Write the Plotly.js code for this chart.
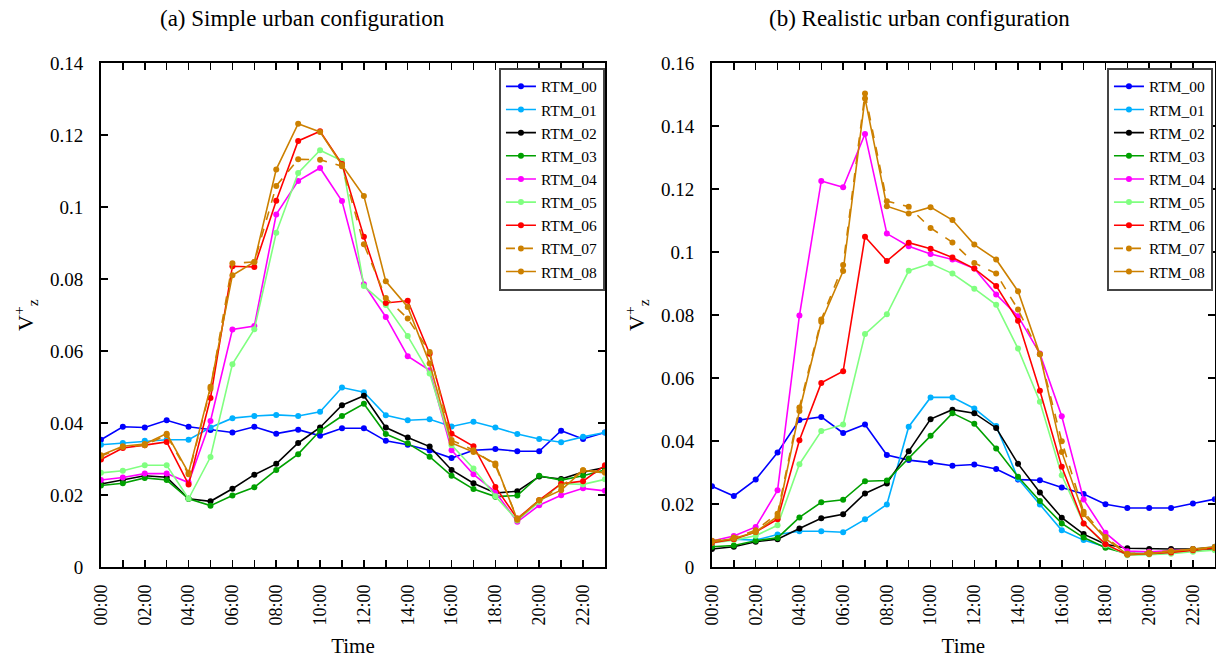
<!DOCTYPE html>
<html>
<head>
<meta charset="utf-8">
<script src="https://cdn.plot.ly/plotly-3.0.1.min.js"></script>
<style>
  html, body { margin: 0; padding: 0; background: #fff; }
  #app { width: 1216px; height: 658px; }
</style>
</head>
<body>
<div id="app"></div>
<script>
// hours of the day, 0..23
const hours = [0, 1, 2, 3, 4, 5, 6, 7, 8, 9, 10, 11, 12, 13, 14, 15, 16, 17, 18, 19, 20, 21, 22, 23]
const hourLabels = ['00:00', '', '02:00', '', '04:00', '', '06:00', '', '08:00', '', '10:00', '',
  '12:00', '', '14:00', '', '16:00', '', '18:00', '', '20:00', '', '22:00', '']
const names = ['RTM_00', 'RTM_01', 'RTM_02', 'RTM_03', 'RTM_04', 'RTM_05', 'RTM_06', 'RTM_07', 'RTM_08']

// (a) simple urban configuration
const simple00 = [0.0354, 0.0390, 0.0388, 0.0408, 0.0390, 0.0381, 0.0374, 0.0390, 0.0371, 0.0382, 0.0365, 0.0386, 0.0386, 0.0351, 0.0340, 0.0324, 0.0303, 0.0325, 0.0328, 0.0322, 0.0322, 0.0379, 0.0356, 0.0374]
const simple01 = [0.0340, 0.0345, 0.0351, 0.0354, 0.0354, 0.0388, 0.0414, 0.0420, 0.0423, 0.0420, 0.0432, 0.0499, 0.0486, 0.0422, 0.0408, 0.0411, 0.0391, 0.0404, 0.0388, 0.0370, 0.0356, 0.0347, 0.0362, 0.0374]
const simple02 = [0.0231, 0.0242, 0.0254, 0.0250, 0.0190, 0.0183, 0.0218, 0.0257, 0.0287, 0.0345, 0.0388, 0.0450, 0.0476, 0.0388, 0.0360, 0.0335, 0.0270, 0.0233, 0.0206, 0.0211, 0.0252, 0.0245, 0.0264, 0.0277]
const simple03 = [0.0227, 0.0233, 0.0248, 0.0242, 0.0190, 0.0171, 0.0199, 0.0222, 0.0270, 0.0314, 0.0379, 0.0420, 0.0454, 0.0370, 0.0344, 0.0307, 0.0254, 0.0217, 0.0196, 0.0199, 0.0254, 0.0242, 0.0254, 0.0270]
const simple04 = [0.0242, 0.0249, 0.0260, 0.0260, 0.0235, 0.0406, 0.0660, 0.0670, 0.0980, 0.1073, 0.1109, 0.1017, 0.0786, 0.0695, 0.0586, 0.0547, 0.0325, 0.0258, 0.0209, 0.0126, 0.0172, 0.0200, 0.0219, 0.0212]
const simple05 = [0.0262, 0.0268, 0.0283, 0.0283, 0.0190, 0.0306, 0.0564, 0.0661, 0.0929, 0.1095, 0.1158, 0.1129, 0.0781, 0.0728, 0.0642, 0.0538, 0.0339, 0.0274, 0.0197, 0.0130, 0.0181, 0.0232, 0.0230, 0.0244]
const simple06 = [0.0299, 0.0331, 0.0339, 0.0348, 0.0230, 0.0470, 0.0836, 0.0834, 0.1018, 0.1184, 0.1211, 0.1120, 0.0918, 0.0734, 0.0740, 0.0593, 0.0371, 0.0336, 0.0223, 0.0135, 0.0186, 0.0232, 0.0239, 0.0283]
const simple07 = [0.0308, 0.0334, 0.0339, 0.0367, 0.0258, 0.0496, 0.0844, 0.0848, 0.1059, 0.1133, 0.1132, 0.1114, 0.0897, 0.0748, 0.0691, 0.0598, 0.0353, 0.0325, 0.0283, 0.0135, 0.0186, 0.0225, 0.0269, 0.0265]
const simple08 = [0.0311, 0.0336, 0.0342, 0.0371, 0.0262, 0.0501, 0.0811, 0.0848, 0.1105, 0.1232, 0.1209, 0.1117, 0.1031, 0.0794, 0.0723, 0.0566, 0.0345, 0.0320, 0.0288, 0.0132, 0.0186, 0.0214, 0.0269, 0.0262]

// (b) realistic urban configuration
const real00 = [0.0257, 0.0226, 0.0278, 0.0364, 0.0467, 0.0477, 0.0426, 0.0453, 0.0356, 0.0340, 0.0332, 0.0322, 0.0326, 0.0312, 0.0278, 0.0276, 0.0253, 0.0232, 0.0200, 0.0188, 0.0188, 0.0188, 0.0202, 0.0216]
const real01 = [0.0080, 0.0089, 0.0086, 0.0104, 0.0114, 0.0114, 0.0111, 0.0152, 0.0199, 0.0446, 0.0539, 0.0539, 0.0504, 0.0448, 0.0281, 0.0199, 0.0117, 0.0086, 0.0065, 0.0043, 0.0043, 0.0047, 0.0056, 0.0065]
const real02 = [0.0058, 0.0065, 0.0081, 0.0089, 0.0123, 0.0155, 0.0168, 0.0234, 0.0266, 0.0368, 0.0470, 0.0500, 0.0489, 0.0442, 0.0328, 0.0237, 0.0157, 0.0105, 0.0073, 0.0060, 0.0058, 0.0058, 0.0058, 0.0062]
const real03 = [0.0065, 0.0069, 0.0084, 0.0093, 0.0158, 0.0206, 0.0214, 0.0273, 0.0275, 0.0345, 0.0417, 0.0489, 0.0455, 0.0377, 0.0287, 0.0210, 0.0139, 0.0094, 0.0062, 0.0043, 0.0043, 0.0049, 0.0054, 0.0058]
const real04 = [0.0083, 0.0099, 0.0128, 0.0244, 0.0799, 0.1226, 0.1206, 0.1375, 0.1059, 0.1019, 0.0994, 0.0977, 0.0948, 0.0866, 0.0797, 0.0678, 0.0479, 0.0215, 0.0109, 0.0051, 0.0049, 0.0052, 0.0056, 0.0061]
const real05 = [0.0077, 0.0086, 0.0100, 0.0133, 0.0327, 0.0432, 0.0453, 0.0740, 0.0803, 0.0941, 0.0964, 0.0932, 0.0884, 0.0833, 0.0694, 0.0525, 0.0292, 0.0139, 0.0070, 0.0038, 0.0040, 0.0043, 0.0049, 0.0054]
const real06 = [0.0078, 0.0089, 0.0112, 0.0152, 0.0403, 0.0585, 0.0622, 0.1049, 0.0972, 0.1030, 0.1011, 0.0983, 0.0948, 0.0893, 0.0782, 0.0560, 0.0319, 0.0139, 0.0073, 0.0040, 0.0043, 0.0047, 0.0054, 0.0061]
const real07 = [0.0084, 0.0094, 0.0117, 0.0170, 0.0507, 0.0786, 0.0959, 0.1504, 0.1162, 0.1144, 0.1077, 0.1031, 0.0966, 0.0932, 0.0818, 0.0676, 0.0400, 0.0176, 0.0096, 0.0043, 0.0047, 0.0051, 0.0056, 0.0061]
const real08 = [0.0080, 0.0091, 0.0112, 0.0161, 0.0496, 0.0779, 0.0940, 0.1488, 0.1146, 0.1123, 0.1143, 0.1102, 0.1024, 0.0977, 0.0876, 0.0676, 0.0366, 0.0168, 0.0091, 0.0041, 0.0043, 0.0051, 0.0058, 0.0065]

const simpleSeries = [simple00, simple01, simple02, simple03, simple04, simple05, simple06, simple07, simple08]
const realSeries = [real00, real01, real02, real03, real04, real05, real06, real07, real08]

const colors = ['#0000ff', '#00b0ff', '#000000', '#00a000', '#ff00ff', '#80ff80', '#ff0000', '#cc8000', '#cc8000']
const dashes = ['solid', 'solid', 'solid', 'solid', 'solid', 'solid', 'solid', 'dash', 'solid']

const serif = '"Liberation Serif", "Times New Roman", Times, serif'

const traces = []
for (let i = 0; i < names.length; i++) {
  traces.push({
    x: hours, y: simpleSeries[i], name: names[i],
    mode: 'lines+markers', xaxis: 'x', yaxis: 'y', legend: 'legend',
    line: { color: colors[i], width: 1.6, dash: dashes[i] },
    marker: { color: colors[i], size: 6 }
  })
}
for (let i = 0; i < names.length; i++) {
  traces.push({
    x: hours, y: realSeries[i], name: names[i],
    mode: 'lines+markers', xaxis: 'x2', yaxis: 'y2', legend: 'legend2',
    line: { color: colors[i], width: 1.6, dash: dashes[i] },
    marker: { color: colors[i], size: 6 }
  })
}

function xAxis (domain, anchor) {
  return {
    domain: domain, anchor: anchor, range: [0, 23],
    tickmode: 'array', tickvals: hours, ticktext: hourLabels, tickangle: -90,
    ticks: 'inside', ticklen: 7, tickwidth: 1.5, tickcolor: '#000',
    showline: true, linecolor: '#000', linewidth: 2, mirror: 'ticks',
    showgrid: false, zeroline: false, ticklabelstandoff: 8,
    tickfont: { family: serif, size: 18, color: '#000' },
    title: { text: 'Time', font: { family: serif, size: 21, color: '#000' }, standoff: 14 }
  }
}
function yAxis (domain, anchor, max) {
  return {
    domain: domain, anchor: anchor, range: [0, max], dtick: 0.02,
    ticks: 'inside', ticklen: 7, tickwidth: 1.5, tickcolor: '#000',
    showline: true, linecolor: '#000', linewidth: 2, mirror: 'ticks',
    showgrid: false, zeroline: false, ticklabelstandoff: 12,
    tickfont: { family: serif, size: 19, color: '#000' },
    title: { text: 'V<sup>+</sup><sub>z</sub>', font: { family: serif, size: 22, color: '#000' }, standoff: 10 }
  }
}
function legendBox (x) {
  return {
    x: x, y: 0.897, xanchor: 'right', yanchor: 'top',
    bgcolor: '#fff', bordercolor: '#444', borderwidth: 2,
    font: { family: serif, size: 15.5, color: '#000' },
    itemwidth: 30, tracegroupgap: 0
  }
}

const layout = {
  width: 1216, height: 658,
  margin: { l: 0, r: 0, t: 0, b: 0 },
  paper_bgcolor: '#fff', plot_bgcolor: '#fff',
  font: { family: serif },
  showlegend: true,
  xaxis: xAxis([0.083, 0.4975], 'y'),
  yaxis: yAxis([0.138, 0.904], 'x', 0.14),
  xaxis2: xAxis([0.5855, 0.999], 'y2'),
  yaxis2: yAxis([0.138, 0.904], 'x2', 0.16),
  legend: legendBox(0.4975),
  legend2: legendBox(0.9975),
  annotations: [
    { text: '(a) Simple urban configuration', x: 0.249, y: 0.9726, xref: 'paper', yref: 'paper',
      xanchor: 'center', yanchor: 'middle',
      showarrow: false, font: { family: serif, size: 23, color: '#000' } },
    { text: '(b) Realistic urban configuration', x: 0.7558, y: 0.9726, xref: 'paper', yref: 'paper',
      xanchor: 'center', yanchor: 'middle',
      showarrow: false, font: { family: serif, size: 23, color: '#000' } }
  ]
}

Plotly.newPlot('app', traces, layout, { displayModeBar: false, staticPlot: true })
</script>
</body>
</html>
